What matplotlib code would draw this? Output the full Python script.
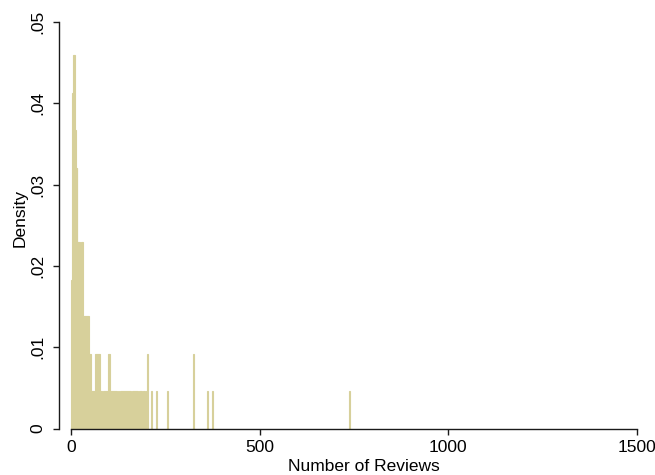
import numpy as np
import matplotlib
matplotlib.use("Agg")
import matplotlib.pyplot as plt

plt.rcParams['font.family'] = ['Liberation Sans', 'DejaVu Sans']

# Histogram of review counts: left edge of each bin (reviews) and its density
BIN_WIDTH = 2.5
bin_left = [
    0, 2.5, 5, 7.5, 10, 12.5, 15, 17.5, 20, 22.5,
    25, 27.5, 30, 32.5, 35, 37.5, 40, 42.5, 45, 47.5,
    50, 52.5, 55, 57.5, 60, 62.5, 65, 67.5, 70, 72.5,
    75, 77.5, 80, 85, 87.5, 90, 92.5, 95, 97.5, 100,
    102.5, 105, 107.5, 110, 112.5, 115, 117.5, 120, 125, 130,
    132.5, 135, 137.5, 140, 142.5, 145, 147.5, 150, 152.5, 155,
    157.5, 162.5, 165, 167.5, 170, 172.5, 175, 180, 182.5, 185,
    190, 192.5, 195, 200, 202.5, 212.5, 225, 255, 322.5, 360,
    375, 737.5,
]
density = [
    0.0183, 0.0413, 0.0459, 0.0459, 0.0367, 0.0321, 0.0321, 0.0229, 0.0229, 0.0229,
    0.0183, 0.0229, 0.0229, 0.0138, 0.0138, 0.0138, 0.0138, 0.0138, 0.0138, 0.0092,
    0.0092, 0.0046, 0.0046, 0.0046, 0.0046, 0.0046, 0.0092, 0.0092, 0.0092, 0.0092,
    0.0092, 0.0046, 0.0046, 0.0046, 0.0046, 0.0046, 0.0046, 0.0046, 0.0092, 0.0092,
    0.0046, 0.0046, 0.0046, 0.0046, 0.0046, 0.0046, 0.0046, 0.0046, 0.0046, 0.0046,
    0.0046, 0.0046, 0.0046, 0.0046, 0.0046, 0.0046, 0.0046, 0.0046, 0.0046, 0.0046,
    0.0046, 0.0046, 0.0046, 0.0046, 0.0046, 0.0046, 0.0046, 0.0046, 0.0046, 0.0046,
    0.0046, 0.0046, 0.0046, 0.0046, 0.0092, 0.0046, 0.0046, 0.0046, 0.0092, 0.0046,
    0.0046, 0.0046,
]

x_ticks = [0, 500, 1000, 1500]
x_tick_labels = ['0', '500', '1000', '1500']
y_ticks = [0, 0.01, 0.02, 0.03, 0.04, 0.05]
y_tick_labels = ['0', '.01', '.02', '.03', '.04', '.05']

BAR_COLOR = '#d7d09b'
AXIS_COLOR = '#1a1a1a'
FS = 12.5

fig = plt.figure(figsize=(6.55, 4.75), dpi=100)
ax = fig.add_axes([59 / 655, 46.5 / 475, 578 / 655, 406.5 / 475])

ax.bar(bin_left, density, width=BIN_WIDTH, align='edge',
       color=BAR_COLOR, edgecolor=BAR_COLOR, linewidth=0.8)

ax.set_xlim(-31.5, 1500)
ax.set_ylim(0, 0.05)

for side in ['top', 'right']:
    ax.spines[side].set_visible(False)
for side in ['left', 'bottom']:
    ax.spines[side].set_color(AXIS_COLOR)
    ax.spines[side].set_linewidth(1.0)
ax.spines['bottom'].set_bounds(0, 1500)

ax.set_xticks(x_ticks)
ax.set_xticklabels(x_tick_labels, fontsize=FS)
ax.set_yticks(y_ticks)
ax.set_yticklabels(y_tick_labels, fontsize=FS, rotation=90, va='center')
ax.tick_params(axis='both', length=4.5, width=1.0, color=AXIS_COLOR)
ax.tick_params(axis='x', pad=4)
ax.tick_params(axis='y', pad=5)

ax.set_xlabel('Number of Reviews', fontsize=FS)
ax.set_ylabel('Density', fontsize=FS)
ax.xaxis.set_label_coords(0.528, -0.075)
ax.yaxis.set_label_coords(-0.054, 0.518)

fig.savefig('out.png', dpi=100, facecolor='white')
plt.close(fig)
